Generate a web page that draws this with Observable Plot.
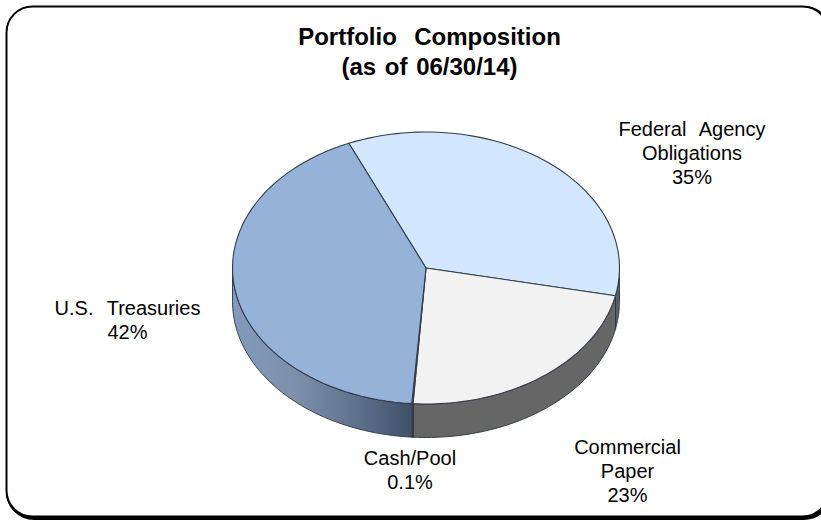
<!DOCTYPE html>
<html>
<head>
<meta charset="utf-8">
<script src="https://cdn.jsdelivr.net/npm/d3@7"></script>
<script src="https://cdn.jsdelivr.net/npm/@observablehq/plot@0.6"></script>
<style>
html,body{margin:0;padding:0;background:#fff;overflow:hidden}
svg{display:block}
.pie-labels text{word-spacing:8px}
.pie-title text{word-spacing:2px}
</style>
</head>
<body>
<div id="chart"></div>
<script>
const categories = ["Federal Agency\nObligations", "Commercial\nPaper", "Cash/Pool", "U.S. Treasuries"];
const shares = [34.8, 22.8, 0.1, 42.3];
const shareLabels = ["35%", "23%", "0.1%", "42%"];
const titleLines = "Portfolio  Composition\n(as of 06/30/14)";
const topColors = ["#d2e6fd", "#f2f2f2", "#95b3d9", "#95b3d9"];
const sideFills = ["#56606a", "#666666", "#3f4f66", "url(#treasuryRim)"];

// layout settings (not data)
const W = 821, H = 520, cx = 425.5, cy = 267.5, rx = 193.5, ry = 136, depth = 33.5;
const startDeg = -23.5;
const labelPos = [[691.5, 152], [627, 470], [409.5, 469], [127, 319]];

const total = d3.sum(shares);
const toRad = Math.PI / 180;
let acc = startDeg * toRad;
const slices = shares.map((v, i) => {
  const a0 = acc; acc += v / total * 2 * Math.PI;
  return {i, a0, a1: acc};
});
const rim = (a) => ({x: Math.sin(a), y: Math.cos(a)});
const dv = depth / ry;

function angleSteps(a0, a1) {
  return d3.range(0, 61).map(k => a0 + (a1 - a0) * k / 60);
}
const topRows = slices.flatMap(s => [{s: s.i, x: 0, y: 0},
  ...angleSteps(s.a0, s.a1).map(a => ({s: s.i, ...rim(a)}))]);
// visible side wall: the lower half of the ellipse
const sideRows = slices.flatMap(s => {
  const from = Math.max(s.a0, Math.PI / 2), to = Math.min(s.a1, 3 * Math.PI / 2);
  if (to <= from) return [];
  const steps = angleSteps(from, to);
  return [...steps.map(a => ({s: s.i, ...rim(a)})),
          ...steps.slice().reverse().map(a => { const p = rim(a); return {s: s.i, x: p.x, y: p.y - dv}; })];
});
const sideOrder = d3.groups(sideRows, d => d.s);

const gradient = () => {
  const svg = d3.create("svg:defs");
  const g = svg.append("linearGradient").attr("id", "treasuryRim")
    .attr("gradientUnits", "userSpaceOnUse")
    .attr("x1", cx - rx).attr("x2", cx - 13).attr("y1", 0).attr("y2", 0);
  [[0, "#829abb"], [0.35, "#7c90ab"], [0.7, "#5d708c"], [1, "#3f4f66"]]
    .forEach(([o, c]) => g.append("stop").attr("offset", o).attr("stop-color", c));
  return svg.node();
};

const chart = Plot.plot({
  width: W, height: H,
  marginLeft: 6, marginTop: 6, marginRight: -7, marginBottom: 4,
  x: {domain: [-1, 1], range: [cx - rx, cx + rx], axis: null},
  y: {domain: [1, -1], range: [cy - ry, cy + ry], axis: null},
  marks: [
    gradient,
    Plot.frame({stroke: "#000", strokeWidth: 4, rx: 26, dx: 1.5, dy: 1.5, fill: "#000"}),
    Plot.frame({stroke: "#000", strokeWidth: 2, rx: 26, fill: "#fff"}),
    ...sideOrder.map(([s, rows]) => Plot.line(rows, {
      x: "x", y: "y", curve: "linear-closed",
      fill: sideFills[s], stroke: "#2c3440", strokeWidth: 0.9
    })),
    ...slices.map(s => Plot.line(topRows.filter(d => d.s === s.i), {
      x: "x", y: "y", curve: "linear-closed",
      fill: topColors[s.i], stroke: "#333d4a", strokeWidth: 1.1
    })),
    Plot.text(slices, {
      x: s => (labelPos[s.i][0] - cx) / rx,
      y: s => (cy - labelPos[s.i][1]) / ry,
      text: s => categories[s.i] + "\n" + shareLabels[s.i],
      fontSize: 20, lineHeight: 1.2, fill: "#000", textAnchor: "middle",
      fontFamily: "Liberation Sans", className: "pie-labels"
    }),
    Plot.text([titleLines], {
      x: [(429 - cx) / rx], y: [(cy - 50) / ry],
      fontSize: 24, fontWeight: "bold", lineHeight: 1.25, fill: "#000",
      fontFamily: "Liberation Sans", className: "pie-title"
    })
  ]
});
document.getElementById("chart").appendChild(chart);
</script>
</body>
</html>
